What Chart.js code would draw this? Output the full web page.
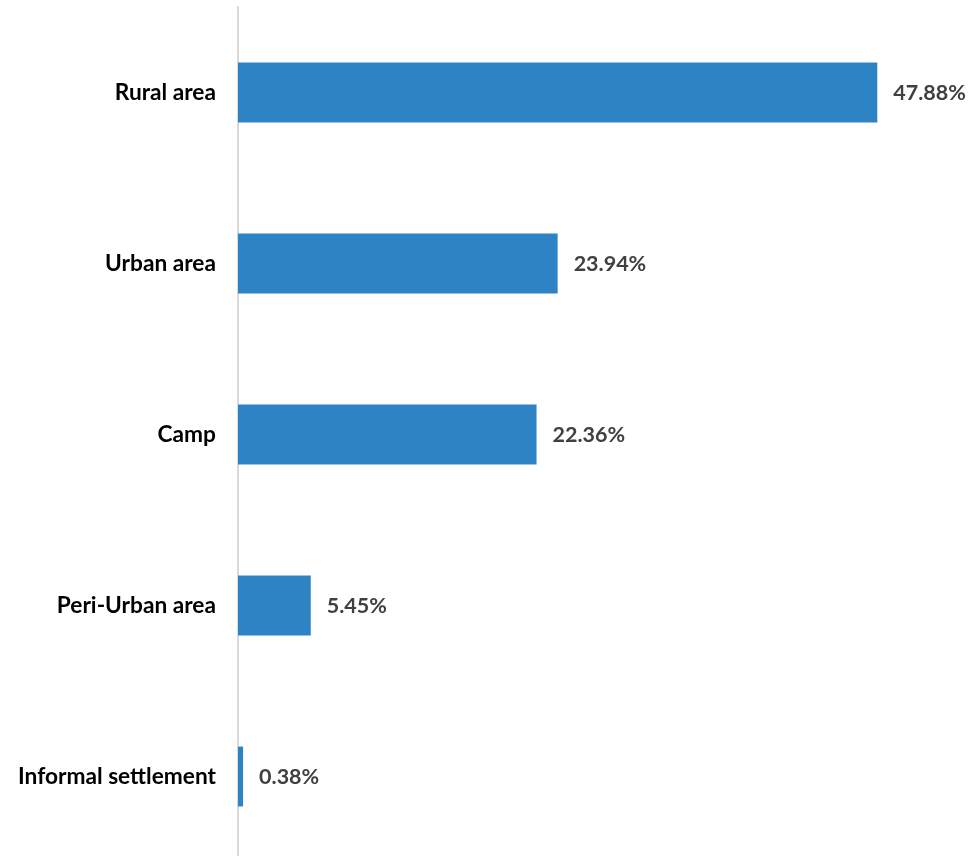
<!DOCTYPE html>
<html>
<head>
<meta charset="utf-8">
<script src="https://cdn.jsdelivr.net/npm/chart.js@4/dist/chart.umd.min.js"></script>
<style>
  html, body { margin: 0; padding: 0; background: #fff; overflow: hidden; }
  canvas { display: block; }
</style>
</head>
<body>
<canvas id="areaChart" width="971" height="862"></canvas>
<script>
const categories = ['Rural area', 'Urban area', 'Camp', 'Peri-Urban area', 'Informal settlement'];
const shares = [47.88, 23.94, 22.36, 5.45, 0.38];

// labels at the end of each bar
const valueLabels = {
    id: 'valueLabels',
    afterDatasetsDraw(chart) {
        const ctx = chart.ctx;
        const meta = chart.getDatasetMeta(0);
        ctx.save();
        ctx.font = 'bold 21.5px Lato';
        ctx.fillStyle = '#404040';
        ctx.textAlign = 'left';
        ctx.textBaseline = 'middle';
        meta.data.forEach((bar, i) => {
            ctx.fillText(shares[i].toFixed(2) + '%', bar.x + 16, bar.y + 1);
        });
        ctx.restore();
    }
};

new Chart(document.getElementById('areaChart'), {
    type: 'bar',
    data: {
        labels: categories,
        datasets: [{
            data: shares,
            backgroundColor: '#2e83c5',
            barPercentage: 0.35,
            categoryPercentage: 1
        }]
    },
    options: {
        indexAxis: 'y',
        responsive: false,
        animation: false,
        layout: { padding: { top: 7, right: 0, bottom: 0, left: 0 } },
        plugins: { legend: { display: false }, tooltip: { enabled: false } },
        scales: {
            x: { display: false, min: 0, max: 54.9 },
            y: {
                grid: { display: false, drawTicks: false },
                border: { display: true, color: '#d9d9d9', width: 2 },
                ticks: {
                    color: '#000',
                    padding: 22,
                    font: { family: 'Lato', size: 22.7, weight: 'bold' }
                },
                afterFit(scale) {
                    scale.width = 238;
                    // tick padding shouldn't push the plot down
                    scale.paddingTop = 0;
                    scale.paddingBottom = 0;
                }
            }
        }
    },
    plugins: [valueLabels]
});
</script>
</body>
</html>
